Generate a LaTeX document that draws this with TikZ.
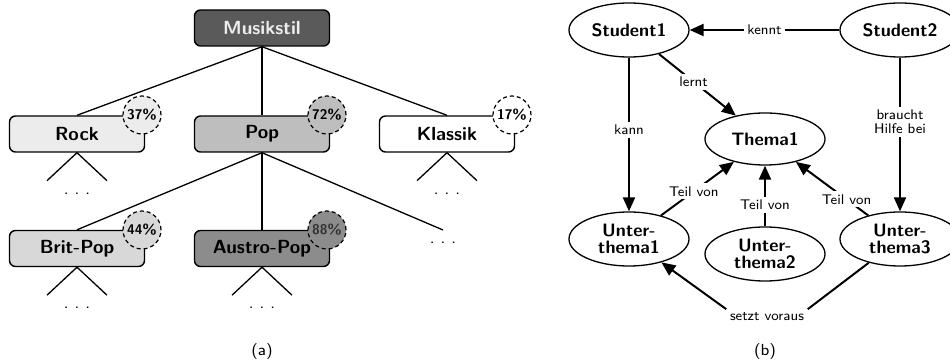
\documentclass[tikz,border=0pt]{standalone}
\usepackage{fontspec}
\usetikzlibrary{arrows.meta,shapes.geometric}

\definecolor{stilgrau}{RGB}{90,90,90}
\definecolor{rockgrau}{RGB}{236,236,236}
\definecolor{popgrau}{RGB}{190,190,190}
\definecolor{britgrau}{RGB}{216,216,216}
\definecolor{austrograu}{RGB}{140,140,140}

\tikzset{every picture/.style={line width=0.75pt}}
\tikzset{
	katbox/.style={draw, line width=0.7pt, rounded corners=3pt, minimum width=67.5pt, minimum height=18pt, inner sep=0pt, font=\fontsize{9.5}{11}\selectfont\sffamily\bfseries},
	anteil/.style={draw, line width=0.6pt, dash pattern=on 2pt off 1.5pt, circle, minimum size=19pt, inner sep=0pt, font=\fontsize{7}{8}\selectfont\sffamily\bfseries},
	zweig/.style={line width=0.65pt},
	punkte/.style={inner sep=0pt, font=\fontsize{8}{9}\selectfont\sffamily},
	begriff/.style={draw, ellipse, line width=0.65pt, minimum width=60pt, minimum height=27pt, inner sep=0pt, align=center, font=\fontsize{9}{8.5}\selectfont\sffamily\bfseries},
	rel/.style={line width=1pt, -{Triangle[length=7pt,width=6pt]}},
	rellbl/.style={fill=white, inner sep=1.5pt, align=center, font=\fontsize{7}{7}\selectfont\sffamily},
	unterschrift/.style={font=\fontsize{8}{9}\selectfont\sffamily}
}

\begin{document}
\begin{tikzpicture}[x=0.5pt,y=0.5pt,yscale=-1]
	\useasboundingbox (0,0) rectangle (950,363);

	% (a) Baum der Musikstile
	\node [katbox, fill=stilgrau, text=white!93!black] (stil) at (262,28) {Musikstil};
	\node [katbox, fill=rockgrau] (rock) at (77,134) {Rock};
	\node [katbox, fill=popgrau] (pop) at (262,134) {Pop};
	\node [katbox, fill=white] (klassik) at (447,134) {Klassik};
	\node [katbox, fill=britgrau] (brit) at (77,248.5) {Brit-Pop};
	\node [katbox, fill=austrograu] (austro) at (262,248.5) {Austro-Pop};
	\coordinate (popweiter) at (443,230);

	%Straight Lines
	\draw [zweig] (stil.south) -- (rock.north);
	\draw [zweig] (stil.south) -- (pop.north);
	\draw [zweig] (stil.south) -- (klassik.north);
	\draw [zweig] (pop.south) -- (brit.north);
	\draw [zweig] (pop.south) -- (austro.north);
	\draw [zweig] (pop.south) -- (popweiter);
	\node [punkte] (popdots) at (443,243) {.\hspace{3pt}.\hspace{3pt}.};

	% offene Teilbaeume
	\foreach \k in {rock,klassik,brit,austro} {
		\draw [zweig] (\k.south) -- ++(-30,28);
		\draw [zweig] (\k.south) -- ++(30,28);
		\path (\k.south) ++(0,41) node [punkte] (\k dots) {.\hspace{3pt}.\hspace{3pt}.};
	}

	% Prozent-Kreise
	\node [anteil, fill=rockgrau] (rockp) at (142,115) {37\%};
	\node [anteil, fill=popgrau] (popp) at (327,115) {72\%};
	\node [anteil, fill=white] (klassikp) at (512,115) {17\%};
	\node [anteil, fill=britgrau] (britp) at (142,230) {44\%};
	\node [anteil, fill=austrograu, text=black!80] (austrop) at (327,230) {88\%};

	\node [unterschrift] (capa) at (262,352) {(a)};

	% (b) Begriffsnetz
	\node [begriff] (stud1) at (629,30) {Student1};
	\node [begriff] (stud2) at (900,30) {Student2};
	\node [begriff, minimum height=26pt] (thema) at (765,139) {Thema1};
	\node [begriff] (ut1) at (629,239) {Unter-\\thema1};
	\node [begriff] (ut2) at (765,254) {Unter-\\thema2};
	\node [begriff] (ut3) at (900,239) {Unter-\\thema3};

	\draw [rel] (stud2) -- node [rellbl] {kennt} (stud1);
	\draw [rel] (stud1) -- node [rellbl, pos=0.45] {lernt} (thema);
	\draw [rel] (stud1) -- node [rellbl, pos=0.47] {kann} (ut1);
	\draw [rel] (stud2) -- node [rellbl, pos=0.42] {braucht\\Hilfe bei} (ut3);
	\draw [rel] (ut1) -- node [rellbl, pos=0.45] {Teil von} (thema);
	\draw [rel] (ut2) -- node [rellbl, pos=0.35] {Teil von} (thema);
	\draw [rel] (ut3) -- node [rellbl, pos=0.3] {Teil von} (thema);

	\node [rellbl] (voraus) at (767,317) {setzt voraus};
	\draw [line width=1pt] (ut3) -- (voraus.north east);
	\draw [rel] (voraus.north west) -- (ut1);

	\node [unterschrift] (capb) at (765,352) {(b)};
\end{tikzpicture}
\end{document}
